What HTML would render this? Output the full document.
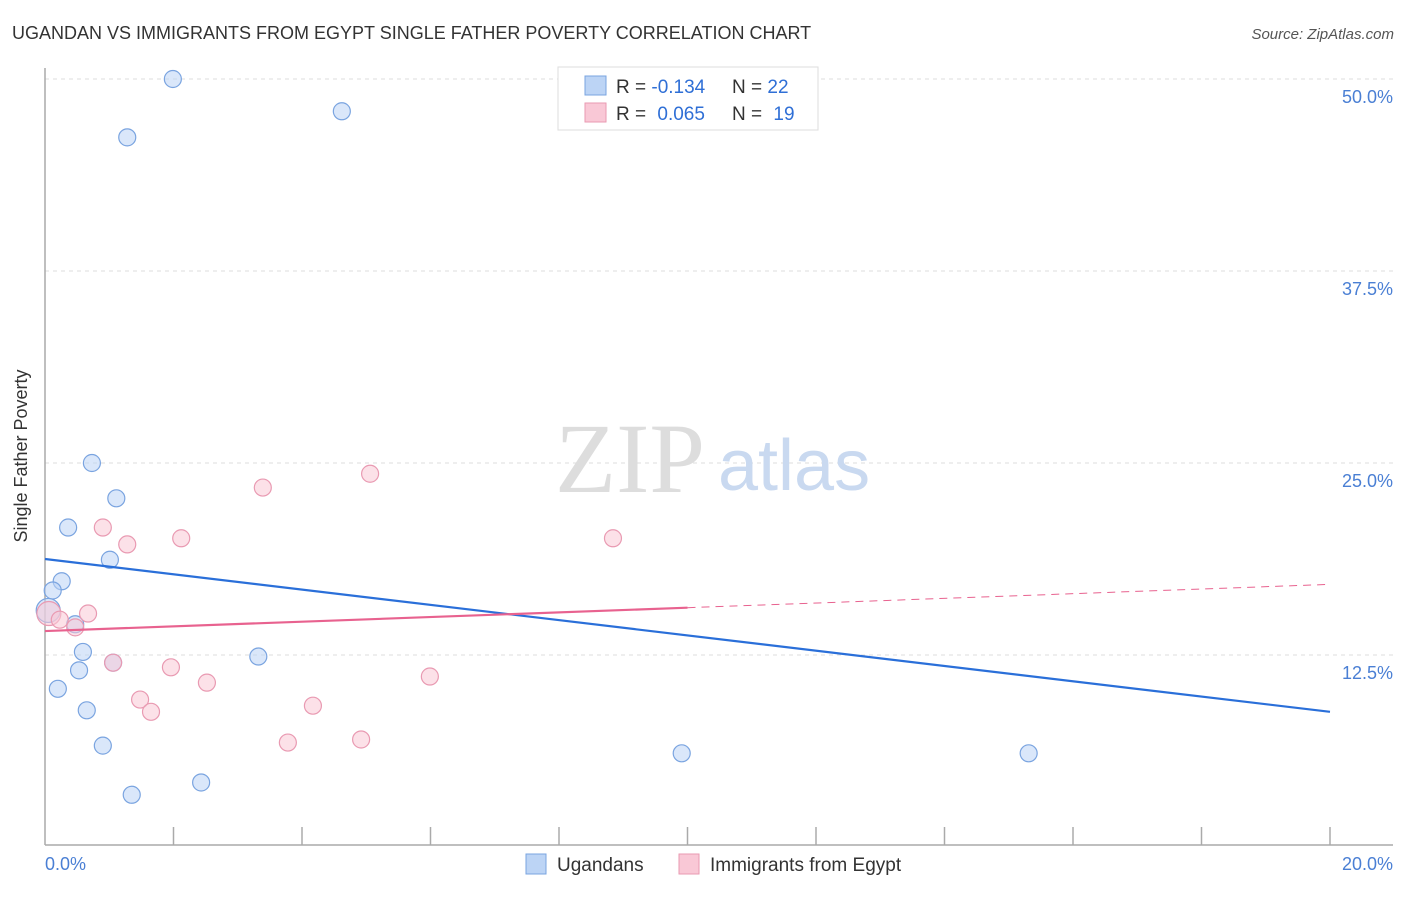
<!DOCTYPE html>
<html><head><meta charset="utf-8"><style>
body{margin:0;background:#fff;font-family:"Liberation Sans",sans-serif}
svg text{font-family:"Liberation Sans",sans-serif}
</style></head><body>
<svg width="1406" height="892" viewBox="0 0 1406 892">
<text x="12" y="39" font-size="18" fill="#333">UGANDAN VS IMMIGRANTS FROM EGYPT SINGLE FATHER POVERTY CORRELATION CHART</text>
<text x="1394" y="39" font-size="15" fill="#555" font-style="italic" text-anchor="end">Source: ZipAtlas.com</text>
<g id="grid"></g>
<text x="555" y="492" font-size="100" fill="#ddd" font-family="Liberation Serif" style="font-family:'Liberation Serif',serif">ZIP</text>
<text x="718" y="490" font-size="72" fill="#c9d9f0">atlas</text>
<line x1="45" y1="68" x2="45" y2="845" stroke="#aaa" stroke-width="1.5"/>
<line x1="45" y1="845" x2="1393" y2="845" stroke="#aaa" stroke-width="1.5"/>
<g id="ticks"></g>
<text x="27" y="456" font-size="18" fill="#333" text-anchor="middle" transform="rotate(-90 27 456)">Single Father Poverty</text>
<text x="45" y="870" font-size="18" fill="#4a7fd4">0.0%</text>
<text x="1393" y="870" font-size="18" fill="#4a7fd4" text-anchor="end">20.0%</text>
<g id="pts"></g>
<g id="trends"></g>
<g>
<rect x="558" y="67" width="260" height="63" fill="#fff" stroke="#ddd"/>
<rect x="585" y="76" width="21" height="19" fill="#bcd4f5" stroke="#7aa4e0"/>
<rect x="585" y="103" width="21" height="19" fill="#f9c8d6" stroke="#e99ab2"/>
<text x="616" y="93" font-size="19" fill="#333">R = <tspan fill="#2f6fd6">-0.134</tspan></text>
<text x="732" y="93" font-size="19" fill="#333">N = <tspan fill="#2f6fd6">22</tspan></text>
<text x="616" y="120" font-size="19" fill="#333">R = <tspan fill="#2f6fd6" dx="6">0.065</tspan></text>
<text x="732" y="120" font-size="19" fill="#333">N = <tspan fill="#2f6fd6" dx="6">19</tspan></text>
</g>
<g>
<rect x="526" y="854" width="20" height="20" fill="#bcd4f5" stroke="#7aa4e0"/>
<text x="557" y="871" font-size="19" fill="#333">Ugandans</text></g>
<g>
<rect x="679" y="854" width="20" height="20" fill="#f9c8d6" stroke="#e99ab2"/>
<text x="710" y="871" font-size="19" fill="#333">Immigrants from Egypt</text></g>
</svg>
<script>
const yTicks=[12.5,25,37.5,50];
const yTickLabels=["12.5%","25.0%","37.5%","50.0%"];
const xTicks=[2,4,6,8,10,12,14,16,18,20];
const ugX=[1.99,1.28,4.62,0.73,1.11,0.36,1.01,0.26,0.12,0.05,0.47,0.59,0.53,1.06,0.20,3.32,0.65,0.90,1.35,2.43,9.91,15.31];
const ugY=[50.0,46.2,47.9,25.0,22.7,20.8,18.7,17.3,16.7,15.4,14.5,12.7,11.5,12.0,10.3,12.4,8.9,6.6,3.4,4.2,6.1,6.1];
const egX=[3.39,5.06,0.90,1.28,2.12,8.84,0.06,0.23,0.67,0.47,1.06,1.96,2.52,1.48,1.65,4.17,3.78,4.92,5.99];
const egY=[23.4,24.3,20.8,19.7,20.1,20.1,15.2,14.8,15.2,14.3,12.0,11.7,10.7,9.6,8.8,9.2,6.8,7.0,11.1];
const ugTrend=[18.75,8.8];
const egTrend=[14.06,17.1];
const egSolidEnd=10;
const X=v=>45+v/20*1285, Y=v=>847-v/12.5*192;
const NS="http://www.w3.org/2000/svg";
function mk(t,a,p){const e=document.createElementNS(NS,t);for(const k in a)e.setAttribute(k,a[k]);p.appendChild(e);return e;}
const grid=document.getElementById('grid');
yTicks.forEach((t,i)=>{
 const l=mk('line',{x1:45,x2:1393,y1:Y(t),y2:Y(t),stroke:'#ddd','stroke-dasharray':'4,4'},grid);
 
 
 const tx=mk('text',{x:1393,y:Y(t)+24,'font-size':18,fill:'#4a7fd4','text-anchor':'end'},grid);
 tx.textContent=yTickLabels[i];
 
 
});
const tk=document.getElementById('ticks');
xTicks.forEach(t=>{
 const l=mk('line',{x1:X(t),x2:X(t),y1:827,y2:845,stroke:'#aaa','stroke-width':1.5},tk);
 
 
});
const pts=document.getElementById('pts');
function dots(xs,ys,fill,stroke,name){xs.forEach((x,i)=>{
 const big=x<0.1;
 const c=mk('circle',{cx:X(x),cy:Y(ys[i]),r:big?12:8.5,fill:fill,'fill-opacity':0.55,stroke:stroke,'stroke-width':1.2},pts);
 
 
});}
dots(ugX,ugY,'#bcd4f5','#7aa4e0','ugandan-point');
dots(egX,egY,'#f9c8d6','#e99ab2','egypt-point');
const tr=document.getElementById('trends');
const b=mk('line',{x1:X(0),y1:Y(ugTrend[0]),x2:X(20),y2:Y(ugTrend[1]),stroke:'#2a6fd9','stroke-width':2.2},tr);


const mid=egTrend[0]+(egTrend[1]-egTrend[0])*egSolidEnd/20;
const p1=mk('line',{x1:X(0),y1:Y(egTrend[0]),x2:X(egSolidEnd),y2:Y(mid),stroke:'#e8628f','stroke-width':2.2},tr);


const p2=mk('line',{x1:X(egSolidEnd),y1:Y(mid),x2:X(20),y2:Y(egTrend[1]),stroke:'#e8628f','stroke-width':1,'stroke-dasharray':'8,6'},tr);


</script>
</body></html>
